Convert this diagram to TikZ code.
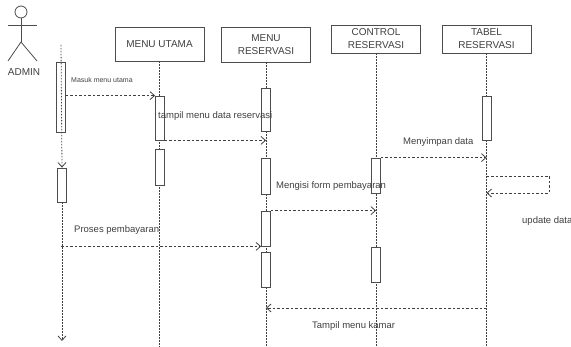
\documentclass[tikz,border=0pt]{standalone}
\usepackage{fontspec}
\setmainfont{Liberation Sans}
\usetikzlibrary{arrows.meta,scopes}
\begin{document}
\begin{tikzpicture}[
    x=1pt,y=-1pt,
    >={Straight Barb[length=4.5pt,width=8pt]},
    obj/.style={draw=black!70,fill=white,thick,minimum width=89pt,font=\fontsize{10}{13}\selectfont,align=center,text=black!75,inner sep=0pt},
    act/.style={draw=black!70,fill=white,thick,minimum width=9pt,inner sep=0pt},
    life/.style={draw=black!75,line width=0.8pt,dash pattern=on 1.4pt off 1.6pt},
    msg/.style={draw=black!75,line width=0.8pt,dash pattern=on 2.5pt off 2pt,->},
    lbl/.style={anchor=west,inner sep=0pt,text=black!75,font=\fontsize{9.5}{11}\selectfont}
]
    \useasboundingbox (0,0) rectangle (571,347);
    % actor
    {[draw=black!70,thick]
        \draw (21,12) circle (6);
        \draw (21,18) -- (21,42) coordinate (hip);
        \draw (8,25) -- (37,25);
        \draw (hip) -- (8,61);
        \draw (hip) -- (37,61);
    }
    \node[text=black!75,font=\fontsize{10}{12}\selectfont] (admin) at (24,72) {ADMIN};
    % objects
    \node[obj,minimum height=34pt] (u) at (159.5,44) {MENU UTAMA};
    \node[obj,minimum height=35pt] (r) at (266,44.5) {MENU\\RESERVASI};
    \node[obj,minimum height=28pt] (c) at (376,39) {CONTROL\\RESERVASI};
    \node[obj,minimum height=28pt] (t) at (486.5,39) {TABEL\\RESERVASI};
    % lifelines
    \coordinate (a) at (61,45);
    \draw[life] (u.south) -- (u |- 0,347);
    \draw[life] (r.south) -- (r |- 0,347);
    \draw[life] (c.south) -- (c |- 0,347);
    \draw[life] (t.south) -- (t |- 0,347);
    % activations
    \node[act,fill=none,minimum height=70pt] (a1) at (61,97) {};
    \node[act,minimum height=34pt] (a2) at (62,185) {};
    \node[act,minimum height=44pt] (u1) at (160,118) {};
    \node[act,minimum height=36pt] (u2) at (160,167) {};
    \node[act,minimum height=43pt] (r1) at (266,109.5) {};
    \node[act,minimum height=36pt] (r2) at (266,176) {};
    \node[act,minimum height=35pt] (r3) at (266,228.5) {};
    \node[act,minimum height=35pt] (r4) at (266,269.5) {};
    \node[act,minimum height=35pt] (c1) at (376,175.5) {};
    \node[act,minimum height=35pt] (c2) at (376,264.5) {};
    \node[act,minimum height=44pt] (t1) at (486.5,118) {};
    {[life,->]
        \draw (a) -- (a2.north);
        \draw (a2.south) -- (62,341);
    }
    % messages
    \draw[msg] (a1.east |- u1.north west) -- (u1.north west);
    \node[lbl,font=\fontsize{7}{8}\selectfont] (m1) at (71,80) {Masuk menu utama};
    \draw[msg] (u1.south east) -- (u1.south east -| r);
    \node[lbl] (m2) at (158,116) {tampil menu data reservasi};
    \draw[msg] (c1.north east) -- (c1.north east -| t);
    \node[lbl] (m3) at (403,142) {Menyimpan data};
    \coordinate (s1) at (t |- 0,176);
    \coordinate (s2) at (t |- 0,193);
    \draw[msg] (s1) -- (549,176) -- (549,193) -- (s2);
    \node[lbl] (m4) at (522,221) {update data};
    \draw[msg] (r3.north east) -- (r3.north east -| c);
    \node[lbl] (m5) at (276,186) {Mengisi form pembayaran};
    \draw[msg] (a |- r3.south west) -- (r3.south west);
    \node[lbl] (m6) at (74,230) {Proses pembayaran};
    \coordinate (k) at (t |- 0,308);
    \draw[msg] (k) -- (r |- k);
    \node[lbl] (m7) at (312,326) {Tampil menu kamar};
\end{tikzpicture}
\end{document}
